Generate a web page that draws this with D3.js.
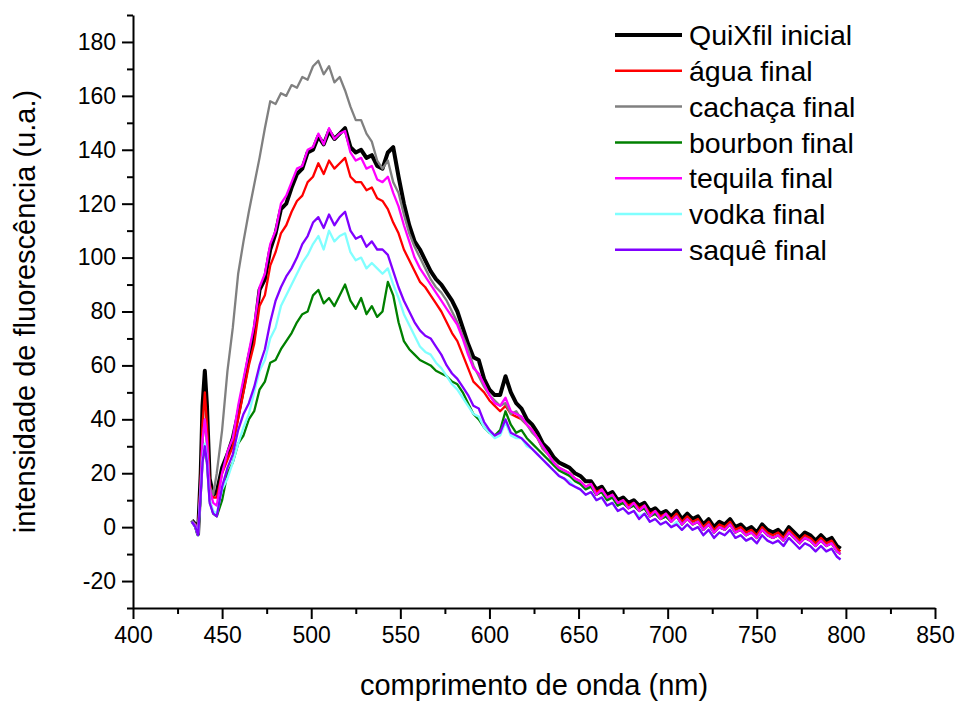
<!DOCTYPE html>
<html>
<head>
<meta charset="utf-8">
<script src="https://cdn.jsdelivr.net/npm/d3@7"></script>
<style>
  body { margin: 0; background: #fff; }
  text { font-family: "Liberation Sans", Arial, sans-serif; fill: #000; }
</style>
</head>
<body>
<div id="chart"></div>
<script>
{
  // wavelength grid (nm)
  const wavelengths = [433, 435, 436.5, 438, 439, 440.3, 441.5, 443, 445, 447, 450,
    453, 456, 459, 462, 465, 468, 471, 474, 477, 480, 483, 486, 489, 492, 495, 498,
    501, 504, 507, 510, 513, 516, 519, 522, 525, 528, 531, 534, 537, 540, 543, 546,
    549, 552, 555, 558, 561, 564, 567, 570, 573, 576, 579, 582, 585, 588, 591, 594,
    597, 600, 603, 606, 609, 612, 615, 618, 621, 624, 627, 630, 633, 636, 639, 642,
    645, 648, 651, 654, 657, 660, 663, 666, 669, 672, 675, 678, 681, 684, 687, 690,
    693, 696, 699, 702, 705, 708, 711, 714, 717, 720, 723, 726, 729, 732, 735, 738,
    741, 744, 747, 750, 753, 756, 759, 762, 765, 768, 771, 774, 777, 780, 783, 786,
    789, 792, 795, 797];

  const quixfil = [2.5, 1, -2.5, 20, 45, 58, 45, 18, 12, 13, 22,
    27, 33, 42, 52, 63, 72, 88, 92, 103, 109, 118, 120, 126, 131, 133, 139,
    140, 145, 142, 147, 144, 146, 148, 141, 139, 140, 137, 138, 134, 133, 139, 141,
    130, 120, 112, 106, 103, 99, 95, 92, 90, 87, 84, 80, 74, 68, 63, 62,
    55, 51, 49, 49, 56, 50, 46, 44, 40, 38, 35, 31, 29, 26, 24, 23,
    22, 20, 19, 17, 17, 14, 15, 12, 13, 10, 11, 9, 10, 8, 9, 6,
    7, 5, 6, 4, 6, 3, 5, 3, 4, 1, 3, 0, 2, 1, 3, 0,
    1, -1, 0, -2, 1, -1, -2, -1, -3, 0, -2, -4, -2, -3, -5, -3,
    -5, -4, -7, -8];

  const agua = [2, 1, -2.5, 18, 38, 50, 38, 16, 11, 11, 20,
    25, 30, 40, 50, 60, 68, 82, 86, 97, 102, 109, 112, 117, 121, 123, 128,
    130, 135, 131, 136, 133, 135, 137, 130, 128, 128, 125, 126, 122, 121, 118, 113,
    109, 103, 99, 95, 91, 89, 86, 83, 80, 76, 72, 69, 64, 59, 54, 52,
    50, 47, 45, 43, 45, 42, 41, 40, 38, 36, 33, 29, 27, 24, 22, 21,
    20, 18, 17, 15, 16, 13, 14, 11, 12, 9, 10, 8, 9, 7, 8, 5,
    6, 4, 5, 3, 5, 2, 4, 2, 3, 0, 2, -1, 1, 0, 2, -1,
    0, -2, -1, -3, 0, -2, -3, -2, -4, -1, -3, -5, -3, -4, -6, -4,
    -6, -5, -8, -9];

  const cachaca = [2.5, 1, -2, 16, 32, 40, 30, 15, 12, 20, 36,
    58, 74, 94, 106, 117, 127, 137, 148, 158, 157, 161, 160, 164, 163, 167, 166,
    171, 173, 168, 171, 165, 167, 162, 156, 151, 151, 146, 143, 136, 133, 136, 128,
    124, 116, 109, 104, 100, 96, 92, 89, 87, 84, 80, 76, 71, 66, 60, 56,
    52, 49, 47, 45, 46, 42, 43, 40, 38, 35, 33, 29, 27, 24, 22, 21,
    19, 18, 16, 15, 15, 12, 13, 10, 11, 8, 9, 7, 8, 6, 7, 4,
    5, 3, 4, 2, 4, 1, 3, 1, 2, -1, 1, -2, 0, -1, 1, -2,
    -1, -3, -2, -4, -1, -3, -4, -3, -5, -2, -4, -6, -4, -5, -7, -5,
    -7, -6, -9, -10];

  const bourbon = [2, 0, -3, 12, 24, 30, 24, 10, 5, 4, 10,
    20, 24, 31, 34, 40, 43, 51, 54, 61, 62, 66, 69, 72, 76, 79, 80,
    86, 88, 83, 85, 82, 86, 90, 84, 81, 85, 79, 82, 78, 80, 91, 86,
    76, 69, 66, 64, 62, 61, 60, 58, 57, 56, 54, 53, 50, 46, 42, 40,
    37, 35, 34, 36, 43, 38, 35, 36, 33, 31, 29, 27, 25, 23, 21, 20,
    19, 17, 16, 14, 15, 12, 13, 10, 11, 8, 9, 7, 8, 6, 7, 4,
    5, 3, 4, 2, 4, 1, 3, 1, 2, -1, 1, -2, 0, -1, 1, -2,
    -1, -3, -2, -4, -1, -3, -4, -3, -5, -2, -4, -6, -4, -5, -7, -5,
    -7, -6, -9, -10];

  const tequila = [2, 0.5, -2.5, 16, 32, 40, 32, 14, 9, 8, 20,
    28, 33, 45, 55, 65, 75, 89, 94, 105, 110, 120, 123, 128, 133, 134, 140,
    141, 146, 142, 148, 144, 146, 147, 139, 136, 137, 133, 134, 129, 128, 130, 124,
    119, 112, 106, 100, 96, 93, 90, 87, 84, 81, 78, 75, 70, 64, 59, 57,
    53, 49, 46, 45, 48, 43, 42, 41, 38, 36, 33, 30, 27, 24, 22, 21,
    20, 18, 17, 15, 16, 12, 14, 11, 12, 9, 10, 7, 9, 6, 8, 4,
    6, 3, 5, 2, 4, 1, 3, 1, 2, -1, 1, -2, 0, -1, 1, -2,
    -1, -3, -2, -4, -1, -3, -4, -3, -5, -2, -4, -6, -4, -5, -7, -5,
    -7, -6, -9, -10];

  const vodka = [2, 0, -3, 13, 25, 31, 25, 10, 6, 5, 14,
    18, 24, 31, 37, 42, 50, 58, 62, 70, 74, 82, 86, 90, 94, 98, 101,
    105, 108, 103, 110, 106, 108, 109, 102, 99, 100, 96, 98, 96, 94, 96, 90,
    85, 79, 75, 71, 67, 65, 64, 61, 59, 56, 53, 51, 48, 45, 42, 41,
    37, 35, 33, 34, 39, 34, 33, 33, 30, 29, 27, 25, 23, 21, 19, 18,
    17, 15, 14, 12, 13, 10, 11, 8, 9, 6, 7, 5, 6, 4, 5, 2,
    3, 1, 2, 0, 2, -1, 1, -1, 0, -3, -1, -4, -2, -3, -1, -4,
    -3, -5, -4, -6, -3, -5, -6, -5, -7, -4, -6, -8, -6, -7, -9, -7,
    -9, -8, -11, -12];

  const saque = [2, 0, -3, 12, 24, 30, 24, 9, 5, 4, 15,
    22, 27, 36, 42, 46, 52, 60, 66, 76, 84, 89, 93, 96, 100, 105, 108,
    113, 115, 111, 116, 112, 115, 117, 110, 107, 108, 104, 106, 103, 103, 101, 95,
    89, 84, 80, 76, 73, 71, 70, 67, 64, 60, 57, 55, 52, 49, 45, 44,
    39, 36, 34, 35, 40, 35, 34, 33, 31, 29, 27, 25, 23, 21, 19, 18,
    16, 15, 14, 12, 13, 10, 11, 8, 9, 6, 7, 5, 6, 3, 5, 2,
    3, 1, 2, 0, 1, -1, 1, -1, 0, -3, -1, -4, -2, -3, -1, -4,
    -3, -5, -4, -6, -3, -5, -6, -5, -7, -4, -6, -8, -6, -7, -9, -7,
    -9, -8, -11, -12];

  const seriesNames = ["QuiXfil inicial", "água final", "cachaça final", "bourbon final",
    "tequila final", "vodka final", "saquê final"];
  const seriesValues = [quixfil, agua, cachaca, bourbon, tequila, vodka, saque];
  const seriesColors = ["#000000", "#ff0000", "#808080", "#008000", "#ff00ff", "#80ffff", "#8000ff"];
  const seriesWidths = [4, 2.3, 2.3, 2.3, 2.3, 2.3, 2.3];

  const xMajorTicks = [400, 450, 500, 550, 600, 650, 700, 750, 800, 850];
  const yMajorTicks = [-20, 0, 20, 40, 60, 80, 100, 120, 140, 160, 180];

  const width = 959;
  const height = 702;
  const margin = { left: 133, right: 24, top: 15, bottom: 94 };

  const svg = d3.select("#chart")
    .append("svg")
    .attr("width", width)
    .attr("height", height);

  const x = d3.scaleLinear().domain([400, 850]).range([margin.left, width - margin.right]);
  const y = d3.scaleLinear().domain([-30, 190]).range([height - margin.bottom, margin.top]);

  const line = d3.line()
    .x(d => x(d[0]))
    .y(d => y(d[1]));

  const gLines = svg.append("g").attr("class", "lines");
  seriesValues.forEach((vals, i) => {
    gLines.append("path")
      .datum(wavelengths.map((w, j) => [w, vals[j]]))
      .attr("fill", "none")
      .attr("stroke", seriesColors[i])
      .attr("stroke-width", seriesWidths[i])
      .attr("stroke-linejoin", "round")
      .attr("d", line);
  });

  // minor ticks
  svg.append("g")
    .attr("transform", `translate(0,${y(-30)})`)
    .call(d3.axisBottom(x).tickValues(d3.range(425, 850, 50)).tickSize(6).tickFormat(""))
    .call(g => g.select(".domain").remove());
  svg.append("g")
    .attr("transform", `translate(${x(400)},0)`)
    .call(d3.axisLeft(y).tickValues(d3.range(-30, 191, 20)).tickSize(6).tickFormat(""))
    .call(g => g.select(".domain").remove());

  // major axes (plain hyphen for negatives, as in the original)
  const xAxis = svg.append("g")
    .attr("transform", `translate(0,${y(-30)})`)
    .call(d3.axisBottom(x).tickValues(xMajorTicks).tickSize(11).tickSizeOuter(0).tickPadding(8)
      .tickFormat(d => String(d)));
  const yAxis = svg.append("g")
    .attr("transform", `translate(${x(400)},0)`)
    .call(d3.axisLeft(y).tickValues(yMajorTicks).tickSize(11).tickSizeOuter(0).tickPadding(6)
      .tickFormat(d => String(d)));

  svg.selectAll(".tick line").attr("stroke", "#000").attr("stroke-width", 2);
  [xAxis, yAxis].forEach(g => {
    g.select(".domain").attr("stroke", "#000").attr("stroke-width", 2);
    g.selectAll(".tick text").style("font-family", "Liberation Sans, Arial, sans-serif").style("font-size", "23px").attr("fill", "#000");
  });

  svg.append("text")
    .attr("x", (margin.left + width - margin.right) / 2)
    .attr("y", 695)
    .attr("text-anchor", "middle")
    .style("font-size", "29px")
    .text("comprimento de onda (nm)");

  svg.append("text")
    .attr("transform", `translate(35,${(margin.top + height - margin.bottom) / 2}) rotate(-90)`)
    .attr("text-anchor", "middle")
    .style("font-size", "29px")
    .text("intensidade de fluorescência (u.a.)");

  // legend
  const legend = svg.append("g").attr("class", "legend");
  seriesNames.forEach((name, i) => {
    const cy = 35 + i * 35.8;
    legend.append("line")
      .attr("x1", 615).attr("x2", 682)
      .attr("y1", cy).attr("y2", cy)
      .attr("stroke", seriesColors[i])
      .attr("stroke-width", i === 0 ? 4 : 2.5);
    legend.append("text")
      .attr("x", 689)
      .attr("y", cy)
      .attr("dy", "0.36em")
      .style("font-size", "28.5px")
      .text(name);
  });
}
</script>
</body>
</html>
